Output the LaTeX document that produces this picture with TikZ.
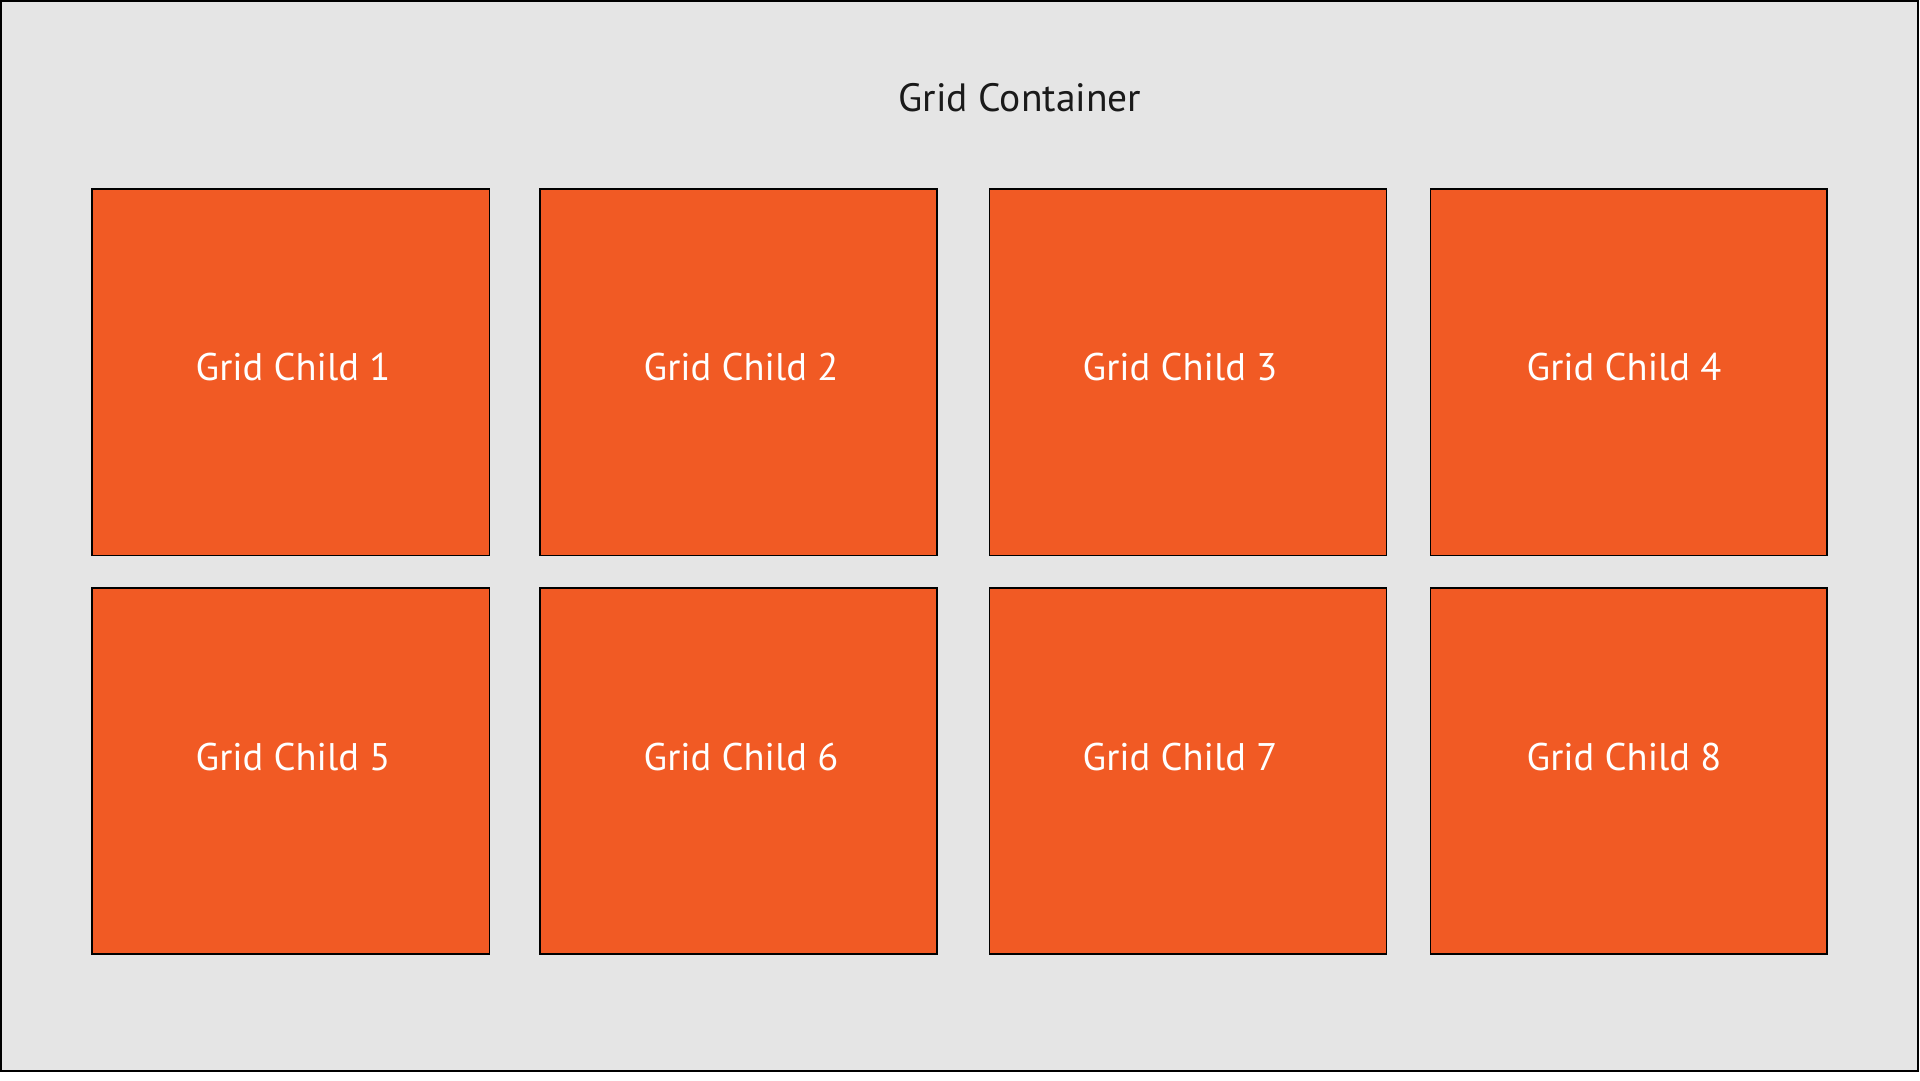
\documentclass[tikz,border=0pt]{standalone}
\usepackage{fontspec}
\setmainfont{PT Sans}
\definecolor{bgc}{HTML}{E5E5E5}
\definecolor{orng}{HTML}{F15A24}
\definecolor{txt}{HTML}{1A1A1A}
\begin{document}
\begin{tikzpicture}[x=1pt,y=-1pt,
  container/.style={draw=black,line width=1.5pt,fill=bgc},
  childbox/.style={draw=black,line width=1.1pt,fill=orng},
  childlabel/.style={text=white,font=\fontsize{38.5}{44}\selectfont,inner sep=0pt,anchor=center},
  titlelabel/.style={text=txt,font=\fontsize{39.5}{45}\selectfont,inner sep=0pt,anchor=center}]
\useasboundingbox (0,0) rectangle (1920,1080);
\fill[white] (0,0) rectangle (1920,1080);
\draw[container] (0.75,0.75) rectangle (1918,1071);
\node[titlelabel] (title) at (1020,98) {Grid Container};
% boxes
\draw[childbox] (92,189) rectangle (489.5,555.7);
\draw[childbox] (540,189) rectangle (937,555.7);
\draw[childbox] (989.4,189) rectangle (1386.7,555.7);
\draw[childbox] (1430.3,189) rectangle (1827,555.7);
\draw[childbox] (92,588) rectangle (489.5,954);
\draw[childbox] (540,588) rectangle (937,954);
\draw[childbox] (989.4,588) rectangle (1386.7,954);
\draw[childbox] (1430.3,588) rectangle (1827,954);
\node[childlabel] (c1) at (293,367) {Grid Child 1};
\node[childlabel] (c2) at (741,367) {Grid Child 2};
\node[childlabel] (c3) at (1180,367) {Grid Child 3};
\node[childlabel] (c4) at (1624,367) {Grid Child 4};
\node[childlabel] (c5) at (293,757) {Grid Child 5};
\node[childlabel] (c6) at (741,757) {Grid Child 6};
\node[childlabel] (c7) at (1180,757) {Grid Child 7};
\node[childlabel] (c8) at (1624,757) {Grid Child 8};
\end{tikzpicture}
\end{document}
